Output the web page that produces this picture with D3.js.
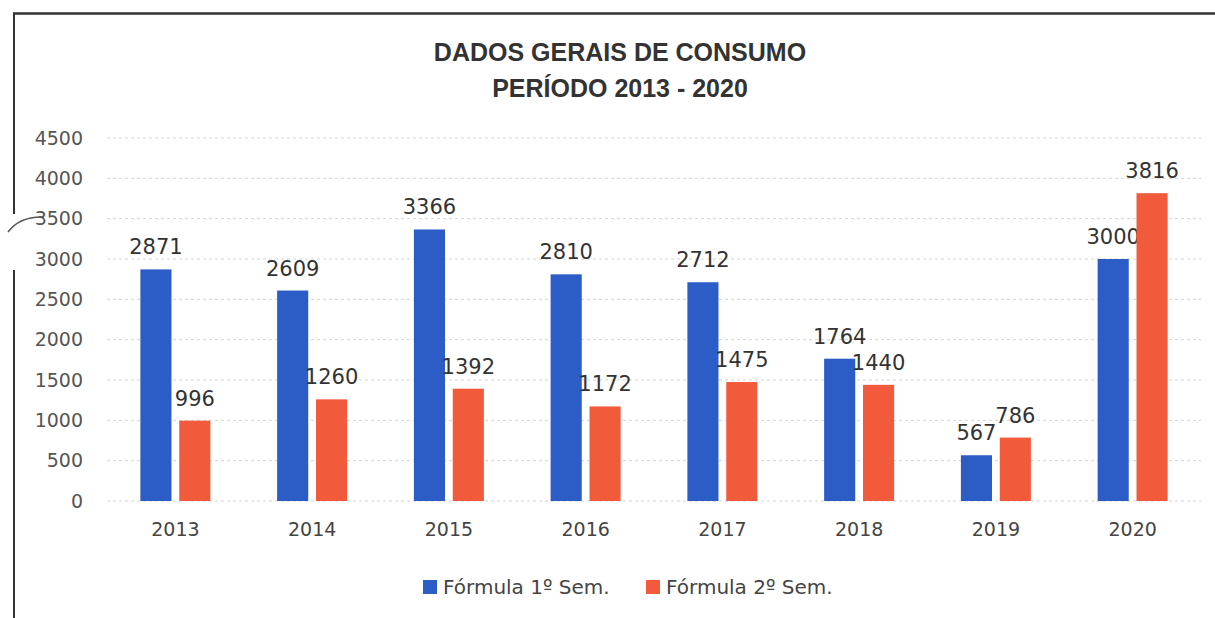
<!DOCTYPE html>
<html>
<head>
<meta charset="utf-8">
<script src="https://cdn.jsdelivr.net/npm/d3@7"></script>
<style>
  body { margin: 0; background: #fff; }
  svg { display: block; }
</style>
</head>
<body>
<div id="chart"></div>
<script>
// Chart data
var years = ["2013", "2014", "2015", "2016", "2017", "2018", "2019", "2020"];
var sem1 = [2871, 2609, 3366, 2810, 2712, 1764, 567, 3000];
var sem2 = [996, 1260, 1392, 1172, 1475, 1440, 786, 3816];
var seriesNames = ["Fórmula 1º Sem.", "Fórmula 2º Sem."];
var yTicks = [0, 500, 1000, 1500, 2000, 2500, 3000, 3500, 4000, 4500];

var svgWidth = 1215;
var svgHeight = 618;

var margin = { top: 138, right: 14, bottom: 117, left: 107 };
var width = svgWidth - margin.left - margin.right;
var height = svgHeight - margin.top - margin.bottom;

var colors = ["#2c5cc5", "#f15b3b"];

var svg = d3.select("#chart")
  .append("svg")
  .attr("width", svgWidth)
  .attr("height", svgHeight);

// scanned frame: top edge and broken left edge
svg.append("line")
  .attr("x1", 13).attr("x2", svgWidth).attr("y1", 13.5).attr("y2", 13.5)
  .attr("stroke", "#333").attr("stroke-width", 2.5);
svg.append("line")
  .attr("x1", 14).attr("x2", 14).attr("y1", 13).attr("y2", 214)
  .attr("stroke", "#333").attr("stroke-width", 2);
svg.append("line")
  .attr("x1", 14).attr("x2", 14).attr("y1", 270).attr("y2", svgHeight)
  .attr("stroke", "#333").attr("stroke-width", 2);
svg.append("path")
  .attr("d", "M8,232 Q20,216 44,217")
  .attr("fill", "none").attr("stroke", "#555").attr("stroke-width", 1.5);

var chartGroup = svg.append("g")
  .attr("transform", `translate(${margin.left}, ${margin.top})`);

// scales
var xScale = d3.scaleBand()
  .domain(years)
  .range([0, width]);

var xInner = d3.scaleBand()
  .domain([0, 1])
  .range([xScale.bandwidth() / 2 - 35, xScale.bandwidth() / 2 + 35])
  .paddingInner(0.2);

var yScale = d3.scaleLinear()
  .domain([0, 4500])
  .range([height, 0]);

// gridlines
chartGroup.append("g")
  .selectAll("line")
  .data(yTicks)
  .enter()
  .append("line")
  .attr("x1", 0)
  .attr("x2", width)
  .attr("y1", d => yScale(d))
  .attr("y2", d => yScale(d))
  .attr("stroke", "#d4d4d4")
  .attr("stroke-width", 1)
  .attr("stroke-dasharray", "3,3");

// y axis
var leftAxis = d3.axisLeft(yScale)
  .tickValues(yTicks)
  .tickFormat(d3.format("d"))
  .tickSize(0)
  .tickPadding(24);

var yAxis = chartGroup.append("g").call(leftAxis);
yAxis.select(".domain").remove();
yAxis.selectAll("text")
  .attr("font-family", "DejaVu Sans")
  .attr("font-size", "19px")
  .attr("fill", "#555");

// x axis
var bottomAxis = d3.axisBottom(xScale)
  .tickSize(0)
  .tickPadding(22);

var xAxis = chartGroup.append("g")
  .attr("transform", `translate(0, ${height})`)
  .call(bottomAxis);
xAxis.select(".domain").remove();
xAxis.selectAll("text")
  .attr("font-family", "DejaVu Sans")
  .attr("font-size", "19px")
  .attr("fill", "#444");

// bars
var series = [sem1, sem2];
series.forEach(function(values, s) {
  var g = chartGroup.append("g");
  g.selectAll("rect")
    .data(values)
    .enter()
    .append("rect")
    .attr("x", (d, i) => xScale(years[i]) + xInner(s))
    .attr("y", d => yScale(d))
    .attr("width", xInner.bandwidth())
    .attr("height", d => height - yScale(d))
    .attr("fill", colors[s]);

  g.selectAll("text")
    .data(values)
    .enter()
    .append("text")
    .attr("x", (d, i) => xScale(years[i]) + xInner(s) + xInner.bandwidth() / 2)
    .attr("y", d => yScale(d) - 15)
    .attr("text-anchor", "middle")
    .attr("font-family", "DejaVu Sans")
    .attr("font-size", "21px")
    .attr("fill", "#333")
    .text(d => d);
});

// title
var title = svg.append("text")
  .attr("x", 620)
  .attr("text-anchor", "middle")
  .attr("font-family", "Liberation Sans")
  .attr("font-weight", "bold")
  .attr("font-size", "25px")
  .attr("fill", "#333");
title.append("tspan").attr("x", 620).attr("y", 61).text("DADOS GERAIS DE CONSUMO");
title.append("tspan").attr("x", 620).attr("y", 97).text("PERÍODO 2013 - 2020");

// legend
var legendX = [423, 646];
var legend = svg.append("g");
seriesNames.forEach(function(name, s) {
  legend.append("rect")
    .attr("x", legendX[s])
    .attr("y", 580)
    .attr("width", 14)
    .attr("height", 14)
    .attr("fill", colors[s]);
  legend.append("text")
    .attr("x", legendX[s] + 20)
    .attr("y", 594)
    .attr("font-family", "DejaVu Sans")
    .attr("font-size", "20px")
    .attr("fill", "#444")
    .text(name);
});
</script>
</body>
</html>
